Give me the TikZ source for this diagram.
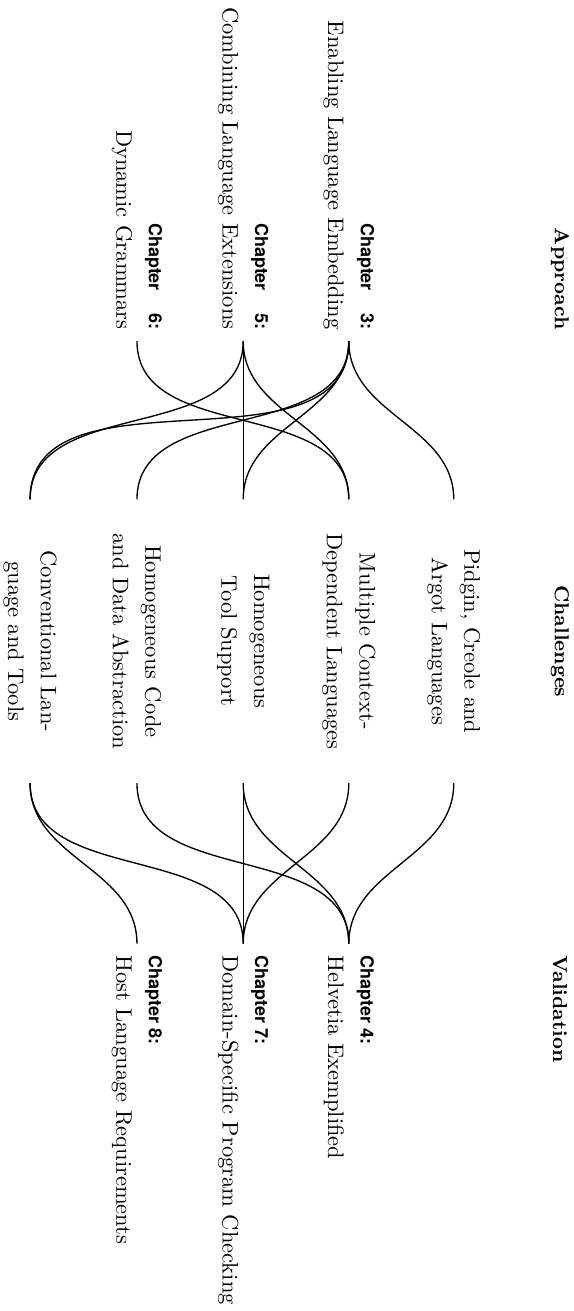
\documentclass[tikz,border=0pt]{standalone}
\usepackage{fontspec}
\newfontfamily\chapfont{TeX Gyre Heros}
\usepackage{tikz}
\usetikzlibrary{positioning}
\newcommand{\chap}[1]{{\chapfont\bfseries\fontsize{8pt}{10pt}\selectfont #1}}

\begin{document}
\begin{tikzpicture}[rotate=-90, transform shape,
  every node/.style={inner xsep=5pt},
  header/.style={font=\bfseries\fontsize{9pt}{11pt}\selectfont},
  approach/.style={anchor=east, align=right, font=\fontsize{10pt}{14.5pt}\selectfont},
  challenge/.style={minimum width=4.42cm, align=center, font=\fontsize{10pt}{14.5pt}\selectfont},
  validation/.style={anchor=west, align=left, font=\fontsize{10pt}{14.5pt}\selectfont},
  link/.style={line width=0.6pt, out=0, in=180},
]
  \useasboundingbox (0,0) rectangle (20.484,8.953);

  % Column headers
  \node[header, anchor=east] (happ) at (5.33,8.75) {Approach};
  \node[header] (hcha) at (10.02,8.75) {Challenges};
  \node[header, anchor=west] (hval) at (14.745,8.75) {Validation};

  % Approach
  \node[approach] (a3) at (5.33,5.45) {\chap{Chapter\hspace{10pt}3:}\\ Enabling Language Embedding};
  \node[approach] (a5) at (5.33,3.80) {\chap{Chapter\hspace{10pt}5:}\\ Combining Language Extensions};
  \node[approach] (a6) at (5.33,2.14) {\chap{Chapter\hspace{10pt}6:}\\ Dynamic Grammars};

  % Challenges
  \node[challenge] (c1) at (10.02,7.09) {Pidgin, Creole and\\ Argot Languages};
  \node[challenge] (c2) at (10.02,5.45) {Multiple Context-\\ Dependent Languages};
  \node[challenge] (c3) at (10.02,3.80) {Homogeneous\\ Tool Support};
  \node[challenge] (c4) at (10.02,2.14) {Homogeneous Code\\ and Data Abstraction};
  \node[challenge] (c5) at (10.02,0.47) {Conventional Lan-\\ guage and Tools};

  % Validation
  \node[validation] (v4) at (14.745,5.45) {\chap{Chapter 4:}\\ Helvetia Exemplified};
  \node[validation] (v7) at (14.745,3.80) {\chap{Chapter 7:}\\ Domain-Specific Program Checking};
  \node[validation] (v8) at (14.745,2.14) {\chap{Chapter 8:}\\ Host Language Requirements};

  % Links
  \foreach \from/\to in {a3/c1, a3/c3, a3/c4, a3/c5, a5/c2, a5/c3, a5/c5, a6/c2}
    \draw[link] (\from.east) to (\to.west);
  \foreach \from/\to in {c1/v4, c2/v7, c3/v4, c3/v7, c4/v4, c5/v7, c5/v8}
    \draw[link] (\from.east) to (\to.west);
\end{tikzpicture}
\end{document}
